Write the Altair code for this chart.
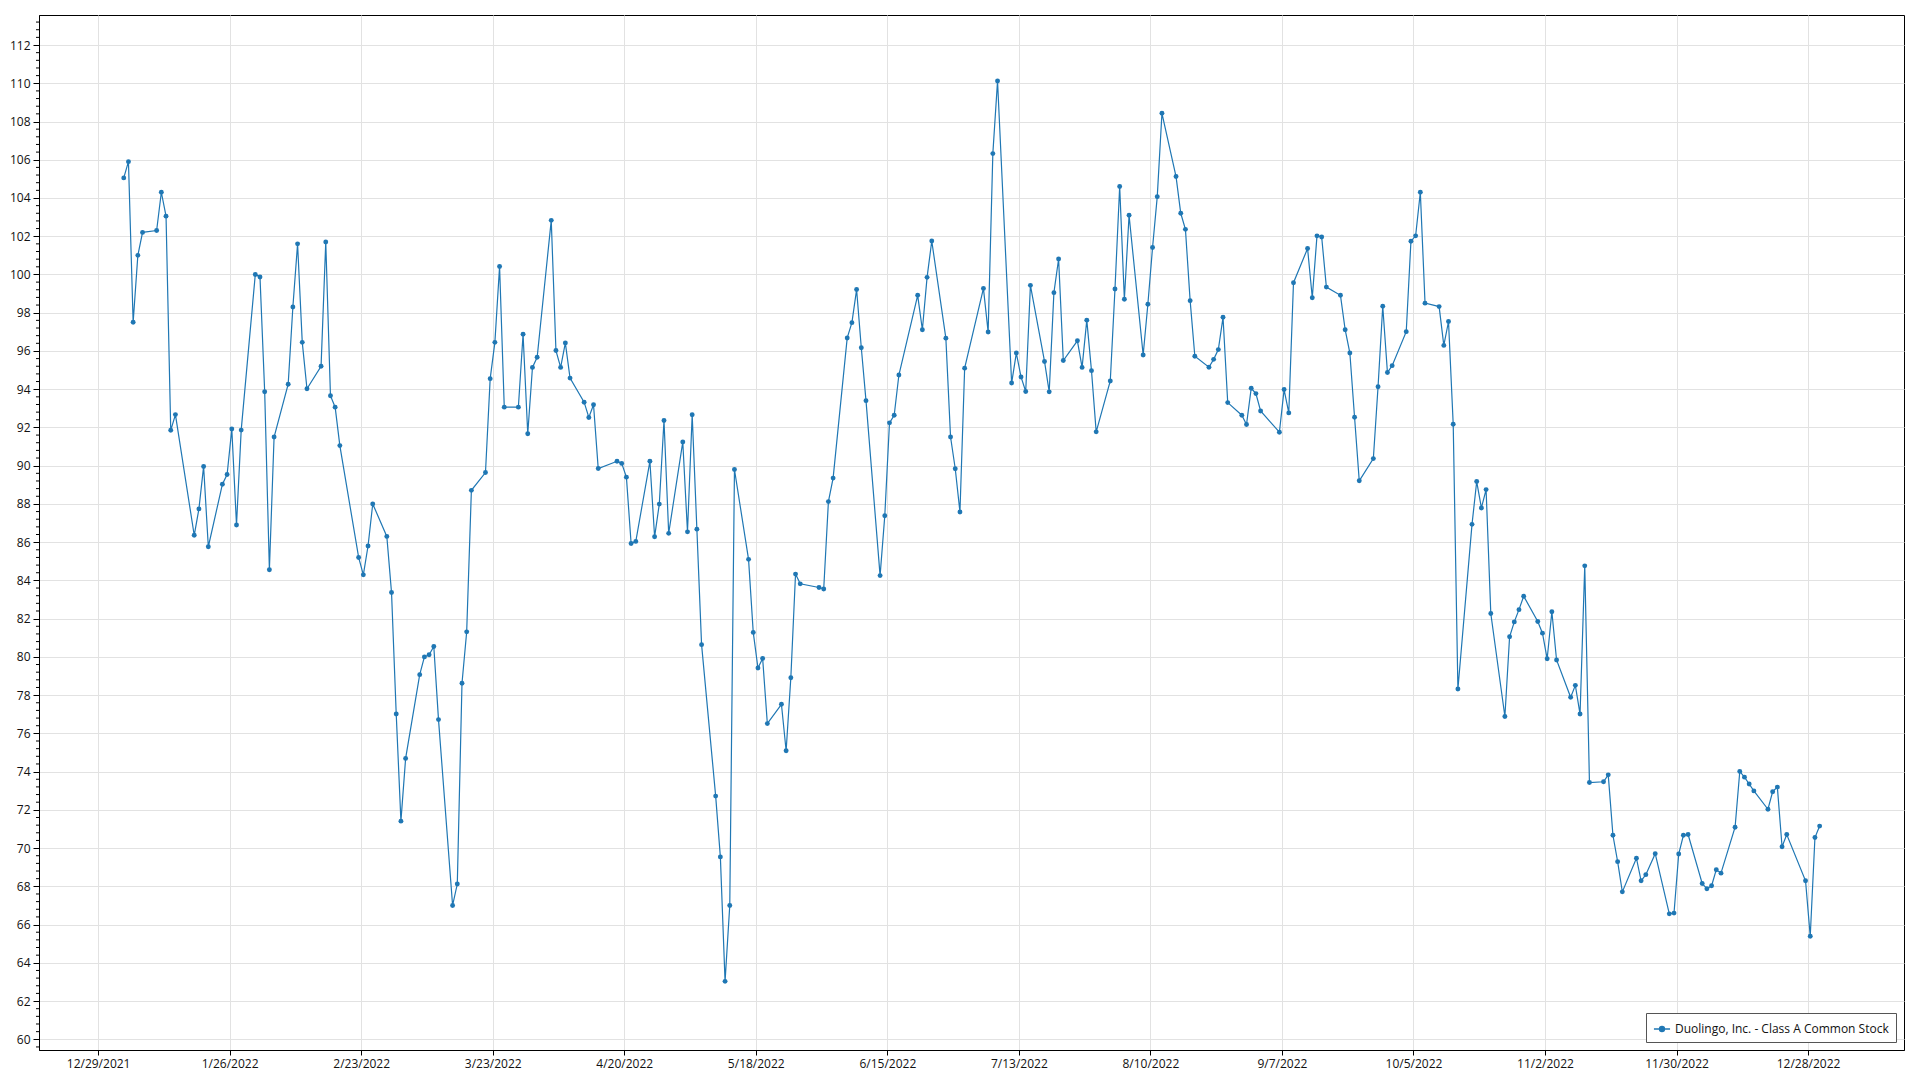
import altair as alt
import pandas as pd

SERIES = "Duolingo, Inc. - Class A Common Stock"

# trading days (day of month) and closing values, 2022
jan_days = [3, 4, 5, 6, 7, 10, 11, 12, 13, 14, 18, 19, 20, 21, 24, 25, 26, 27, 28, 31]
jan_vals = [105.05, 105.9, 97.5, 101.0, 102.2, 102.3, 104.3, 103.05, 91.85, 92.67,
            86.36, 87.74, 89.96, 85.76, 89.03, 89.54, 91.92, 86.9, 91.86, 100.0]
feb_days = [1, 2, 3, 4, 7, 8, 9, 10, 11, 14, 15, 16, 17, 18, 22, 23, 24, 25, 28]
feb_vals = [99.87, 93.87, 84.56, 91.5, 94.26, 98.3, 101.6, 96.45, 94.02, 95.2,
            101.7, 93.66, 93.06, 91.05, 85.2, 84.29, 85.8, 88.0, 86.3]
mar_days = [1, 2, 3, 4, 7, 8, 9, 10, 11, 14, 15, 16, 17, 18, 21, 22, 23, 24, 25, 28, 29, 30, 31]
mar_vals = [83.37, 77.01, 71.41, 74.69, 79.07, 80.0, 80.11, 80.54, 76.72, 67.0,
            68.12, 78.62, 81.31, 88.71, 89.64, 94.55, 96.45, 100.42, 93.06, 93.06,
            96.87, 91.67, 95.14]
apr_days = [1, 4, 5, 6, 7, 8, 11, 12, 13, 14, 18, 19, 20, 21, 22, 25, 26, 27, 28, 29]
apr_vals = [95.67, 102.83, 96.02, 95.14, 96.42, 94.58, 93.32, 92.52, 93.19, 89.85,
            90.23, 90.12, 89.4, 85.93, 86.04, 90.23, 86.28, 87.99, 92.36, 86.46]
may_days = [2, 3, 4, 5, 6, 9, 10, 11, 12, 13, 16, 17, 18, 19, 20, 23, 24, 25, 26, 27, 31]
may_vals = [91.24, 86.54, 92.66, 86.68, 80.64, 72.72, 69.54, 63.03, 67.0, 89.8,
            85.1, 81.28, 79.42, 79.92, 76.51, 77.52, 75.09, 78.91, 84.33, 83.82, 83.63]
jun_days = [1, 2, 3, 6, 7, 8, 9, 10, 13, 14, 15, 16, 17, 21, 22, 23, 24, 27, 28, 29, 30]
jun_vals = [83.55, 88.12, 89.35, 96.68, 97.48, 99.21, 96.17, 93.4, 84.25, 87.38,
            92.24, 92.64, 94.74, 98.91, 97.11, 99.85, 101.75, 96.67, 91.5, 89.84, 87.58]
jul_days = [1, 5, 6, 7, 8, 11, 12, 13, 14, 15, 18, 19, 20, 21, 22, 25, 26, 27, 28, 29]
jul_vals = [95.1, 99.27, 96.99, 106.32, 110.12, 94.32, 95.89, 94.64, 93.88, 99.43,
            95.45, 93.86, 99.05, 100.81, 95.5, 96.53, 95.14, 97.61, 94.97, 91.77]
aug_days = [1, 2, 3, 4, 5, 8, 9, 10, 11, 12, 15, 16, 17, 18, 19, 22, 23, 24, 25, 26, 29, 30, 31]
aug_vals = [94.43, 99.24, 104.6, 98.7, 103.1, 95.79, 98.44, 101.41, 104.07, 108.43,
            105.12, 103.2, 102.36, 98.63, 95.72, 95.15, 95.56, 96.07, 97.76, 93.3,
            92.64, 92.15, 94.05]
sep_days = [1, 2, 6, 7, 8, 9, 12, 13, 14, 15, 16, 19, 20, 21, 22, 23, 26, 27, 28, 29, 30]
sep_vals = [93.77, 92.86, 91.75, 93.98, 92.76, 99.57, 101.36, 98.78, 102.02, 101.96,
            99.34, 98.91, 97.11, 95.89, 92.53, 89.21, 90.37, 94.13, 98.34, 94.87, 95.23]
oct_days = [3, 4, 5, 6, 7, 10, 11, 12, 13, 14, 17, 18, 19, 20, 21, 24, 25, 26, 27, 28, 31]
oct_vals = [97.01, 101.74, 102.02, 104.3, 98.5, 98.32, 96.29, 97.54, 92.17, 78.32,
            86.93, 89.17, 87.79, 88.75, 82.27, 76.88, 81.05, 81.83, 82.47, 83.17, 81.85]
nov_days = [1, 2, 3, 4, 7, 8, 9, 10, 11, 14, 15, 16, 17, 18, 21, 22, 23, 25, 28, 29, 30]
nov_vals = [81.24, 79.9, 82.36, 79.84, 77.89, 78.51, 77.01, 84.76, 73.43, 73.47,
            73.83, 70.67, 69.29, 67.71, 69.47, 68.29, 68.61, 69.71, 66.56, 66.6, 69.69]
dec_days = [1, 2, 5, 6, 7, 8, 9, 12, 13, 14, 15, 16, 19, 20, 21, 22, 23, 27, 28, 29, 30]
dec_vals = [70.67, 70.71, 68.15, 67.87, 68.03, 68.87, 68.69, 71.09, 74.01, 73.71,
            73.35, 72.99, 72.03, 72.95, 73.19, 70.07, 70.71, 68.29, 65.39, 70.55, 71.15]

x_tick_labels = ["12/29/2021", "1/26/2022", "2/23/2022", "3/23/2022", "4/20/2022",
                 "5/18/2022", "6/15/2022", "7/13/2022", "8/10/2022", "9/7/2022",
                 "10/5/2022", "11/2/2022", "11/30/2022", "12/28/2022"]
y_ticks = list(range(60, 113, 2))

months = [(1, jan_days, jan_vals), (2, feb_days, feb_vals), (3, mar_days, mar_vals),
          (4, apr_days, apr_vals), (5, may_days, may_vals), (6, jun_days, jun_vals),
          (7, jul_days, jul_vals), (8, aug_days, aug_vals), (9, sep_days, sep_vals),
          (10, oct_days, oct_vals), (11, nov_days, nov_vals), (12, dec_days, dec_vals)]

rows = []
for m, days, vals in months:
    assert len(days) == len(vals), m
    for d, v in zip(days, vals):
        rows.append({"date": f"2022-{m:02d}-{d:02d}T11:00:00", "price": v, "series": SERIES})
df = pd.DataFrame(rows)

minor = []
for major in range(58, 114, 2):
    for k in range(1, 5):
        val = round(major + 0.4 * k, 2)
        if 59.44 <= val <= 113.57:
            minor.append({"price": val})
minor_df = pd.DataFrame(minor)


def dt(label):
    mm, dd, yy = [int(p) for p in label.split("/")]
    return alt.DateTime(year=yy, month=mm, date=dd)


x_values = [dt(s) for s in x_tick_labels]
x_scale = alt.Scale(domain=[alt.DateTime(year=2021, month=12, date=16, hours=10),
                            alt.DateTime(year=2023, month=1, date=17, hours=10)])
y_scale = alt.Scale(domain=[59.44, 113.57], nice=False, zero=False)
BLUE = "#1f77b4"

y_axis = alt.Axis(title=None, values=y_ticks, tickSize=6, labelPadding=3, grid=True)
x_enc = alt.X("date:T", scale=x_scale,
              axis=alt.Axis(title=None, values=x_values, format="%-m/%-d/%Y",
                            tickSize=5, labelPadding=3, grid=True, labelFlush=False))
y_enc = alt.Y("price:Q", scale=y_scale, axis=y_axis)

legend = alt.Legend(title=None, orient="bottom-right", offset=8, padding=7,
                    strokeColor="#555555", fillColor="white", labelFontSize=12,
                    labelFont="Open Sans", labelColor="#111111", labelLimit=0,
                    symbolType="M-1,0L1,0M-0.3,0A0.3,0.3 0 1,0 0.3,0A0.3,0.3 0 1,0 -0.3,0",
                    symbolSize=260, symbolStrokeWidth=1.5, symbolStrokeColor=BLUE,
                    symbolFillColor=BLUE, cornerRadius=0)
color = alt.Color("series:N", scale=alt.Scale(range=[BLUE]), legend=legend)

base = alt.Chart(df)
line = base.mark_line(strokeWidth=1.2).encode(x=x_enc, y=y_enc, color=color)
points = base.mark_point(filled=True, size=24, opacity=1).encode(x=x_enc, y=y_enc, color=color)

minor_ticks = alt.Chart(minor_df).mark_rule(color="black", strokeWidth=1).encode(
    y=alt.Y("price:Q", scale=y_scale, axis=y_axis),
    x=alt.value(-3), x2=alt.value(0))

chart = alt.layer(line, points, minor_ticks).properties(
    width=1865, height=1035,
    autosize=alt.AutoSizeParams(type="none"),
    padding={"left": 31, "top": 7, "right": 8, "bottom": 30},
).configure_view(
    stroke="black", strokeWidth=1
).configure_axis(
    labelFont="Open Sans", labelFontSize=12, labelColor="#111111",
    domainColor="black", tickColor="black", gridColor="#e2e2e2", gridWidth=1
)

chart.save("out.html", embed_options={"renderer": "svg", "actions": False})
